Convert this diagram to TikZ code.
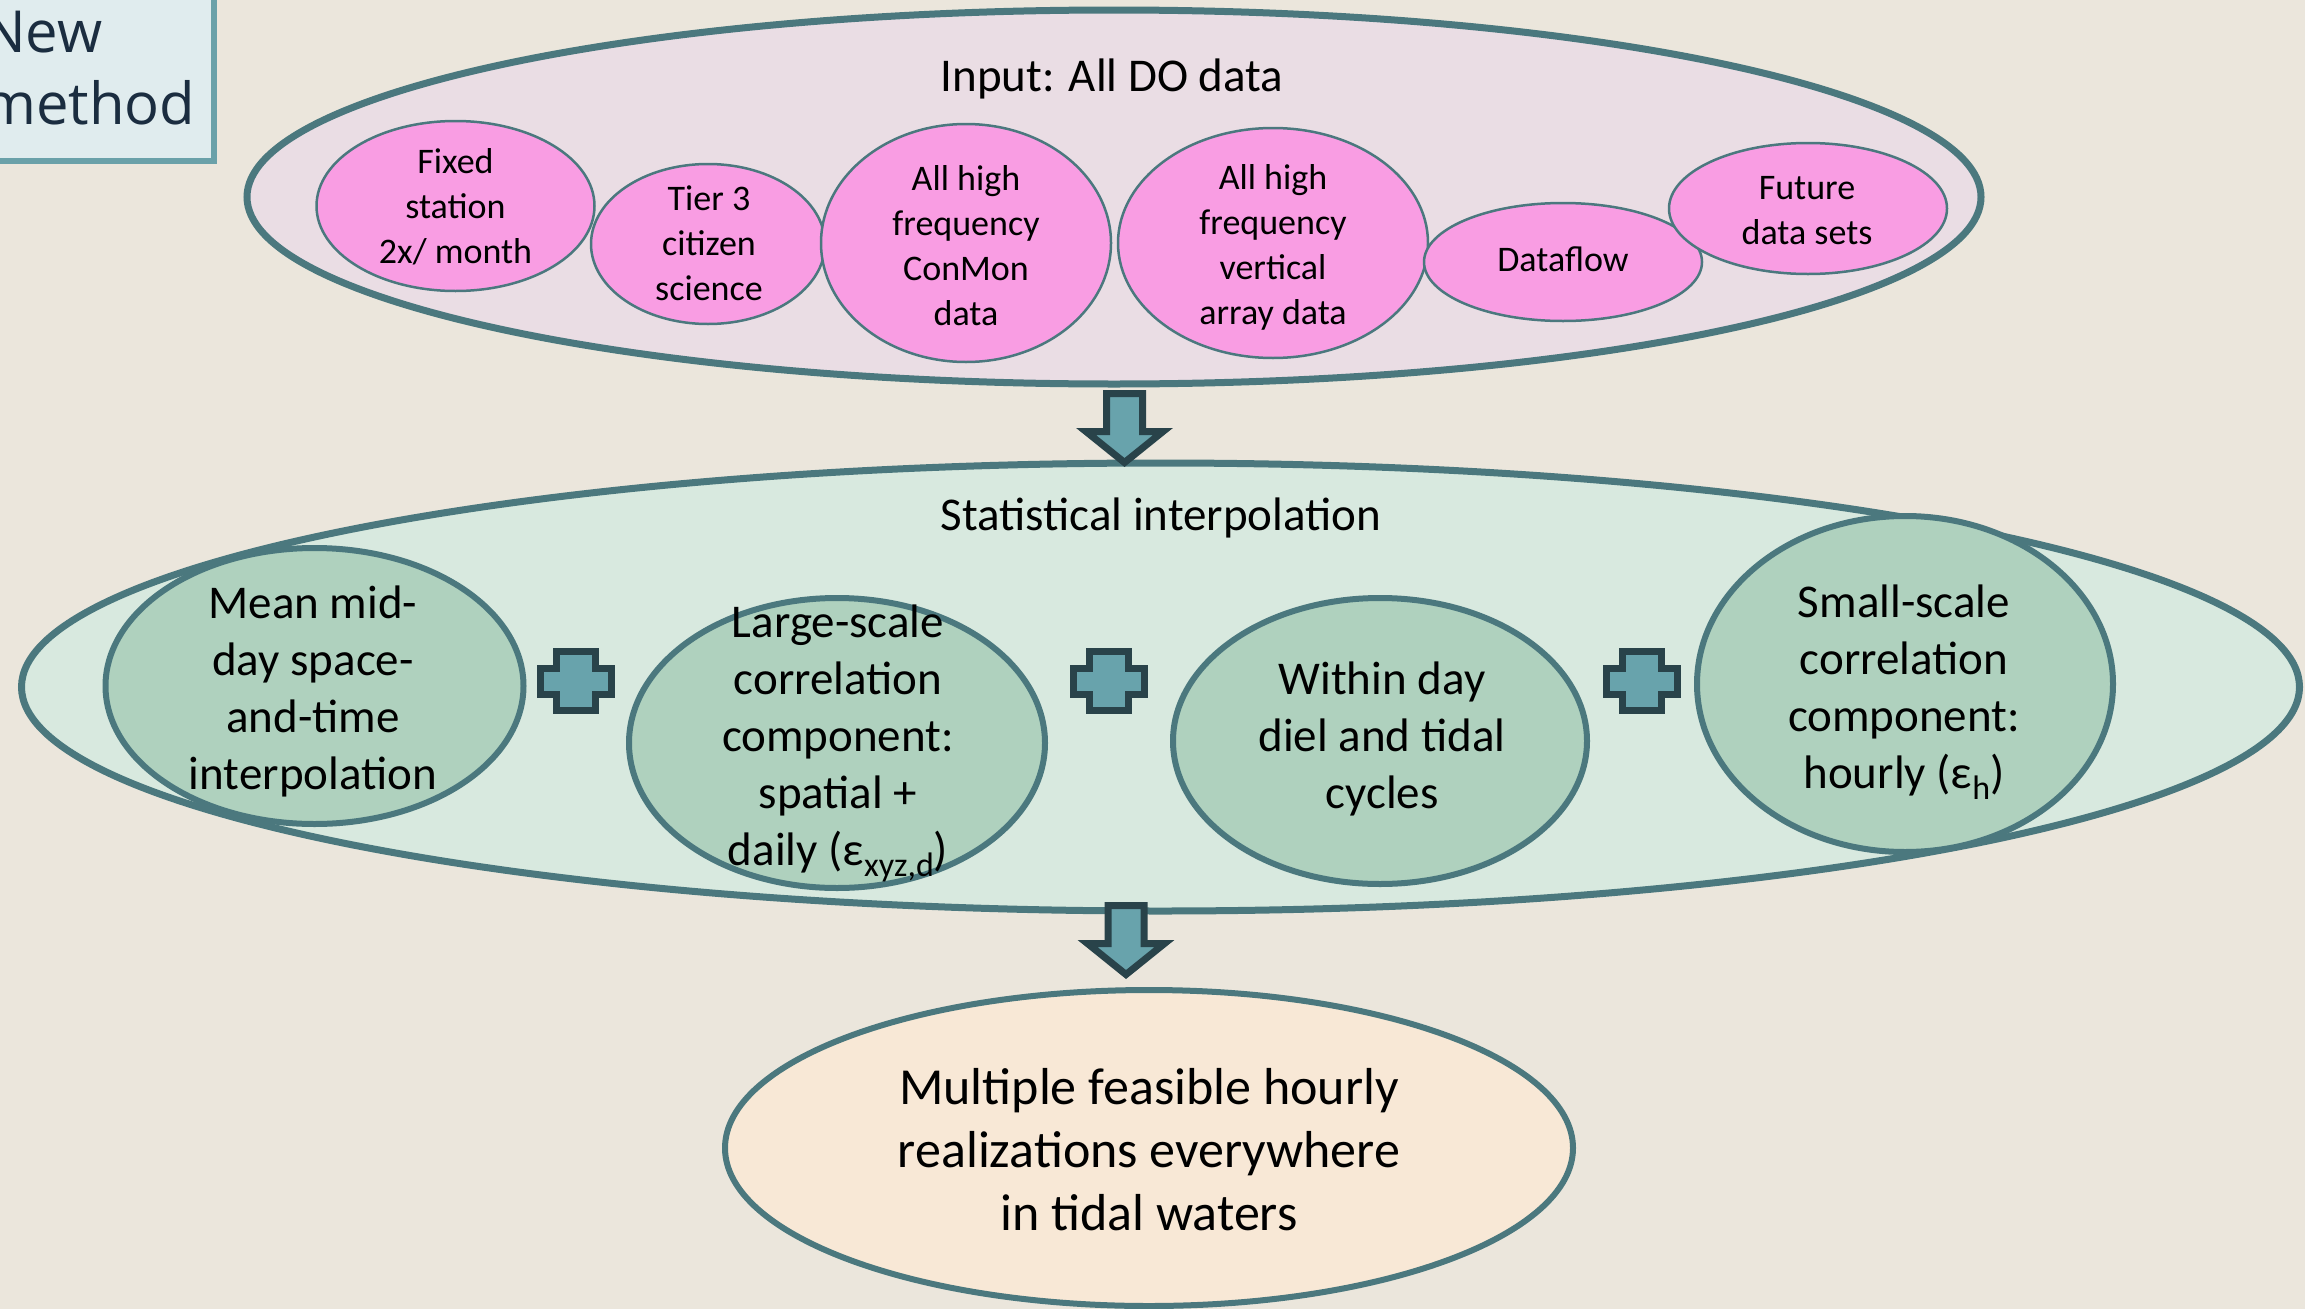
\documentclass[tikz,border=0pt]{standalone}
\usepackage{fontspec}
\setmainfont{Carlito}
\newfontfamily\headfont{Open Sans}
\usetikzlibrary{shapes.geometric,calc}

\definecolor{bg}{HTML}{EBE6DC}
\definecolor{edge}{HTML}{4B787E}
\definecolor{topfill}{HTML}{EADDE4}
\definecolor{pinkfill}{HTML}{F99DE3}
\definecolor{midfill}{HTML}{D8E9DF}
\definecolor{greenfill}{HTML}{AFD1BE}
\definecolor{outfill}{HTML}{F8E8D6}
\definecolor{arrowfill}{HTML}{68A3AC}
\definecolor{arrowedge}{HTML}{29434A}
\definecolor{tagfill}{HTML}{E0ECEE}
\definecolor{tagedge}{HTML}{6AA1A9}
\definecolor{tagtext}{HTML}{1B2D40}

\newcommand{\lowsub}[1]{\raisebox{-11pt}{\fontsize{34}{34}\selectfont #1}}

\begin{document}
\begin{tikzpicture}[x=1pt,y=-1pt,
  ell/.style={ellipse, draw=edge, inner sep=0pt, outer sep=0pt},
  bigell/.style={ell, line width=7pt},
  pinkell/.style={ell, fill=pinkfill, line width=2.5pt},
  greenell/.style={ell, fill=greenfill, line width=6pt},
  smalltxt/.style={align=center, inner sep=0pt, font=\fontsize{36}{45}\selectfont},
  midtxt/.style={align=center, inner sep=0pt, font=\fontsize{47}{57}\selectfont},
  bigtxt/.style={align=center, inner sep=0pt, font=\fontsize{52}{63}\selectfont},
  arrowbody/.style={draw=arrowedge, fill=arrowfill, line width=7pt, line join=miter},
  pics/downarrow/.style={code={
    \draw[arrowbody] (-18,0) -- (18,0) -- (18,38) -- (38.5,38) -- (0,69)
      -- (-38.5,38) -- (-18,38) -- cycle;}},
  pics/plussign/.style={code={
    \draw[arrowbody] (-19.5,-29.5) -- (19.5,-29.5) -- (19.5,-13) -- (35.5,-13)
      -- (35.5,13) -- (19.5,13) -- (19.5,29.5) -- (-19.5,29.5) -- (-19.5,13)
      -- (-35.5,13) -- (-35.5,-13) -- (-19.5,-13) -- cycle;}}
]
\useasboundingbox (0,0) rectangle (2305,1309);
\clip (0,0) rectangle (2305,1309);
\fill[bg] (0,0) rectangle (2305,1309);

% title tag in the corner
\node[rectangle, draw=tagedge, fill=tagfill, line width=6pt, inner sep=0pt,
      minimum width=264pt, minimum height=211pt] (tag) at (82,55.5) {};
\node[anchor=north west, align=left, inner sep=0pt, text=tagtext,
      font=\headfont\fontsize{58}{72}\selectfont] (taglbl) at (-18,11) {New\\method};

% input data
\node[bigell, fill=topfill, minimum width=1734pt, minimum height=374pt] (input) at (1114,197) {};
\node[midtxt, anchor=base] (inputlbl) at (1112,91) {Input: All DO data};

\node[pinkell, minimum width=234pt, minimum height=160pt] (tier) at (708,244) {};
\node[pinkell, minimum width=278pt, minimum height=170pt] (fixed) at (455.5,206) {};
\node[pinkell, minimum width=290pt, minimum height=238pt] (conmon) at (966,243) {};
\node[pinkell, minimum width=310pt, minimum height=230pt] (vert) at (1273,243) {};
\node[pinkell, minimum width=278pt, minimum height=118pt] (flow) at (1563,262) {};
\node[pinkell, minimum width=278pt, minimum height=131pt] (future) at (1808,208.5) {};

\node[smalltxt] (fixedlbl) at (455.5,207) {Fixed\\station\\2x/ month};
\node[smalltxt] (tierlbl) at (709,243) {Tier 3\\citizen\\science};
\node[smalltxt] (conmonlbl) at (966,246) {All high\\frequency\\ConMon\\data};
\node[smalltxt] (vertlbl) at (1273,247) {All high\\frequency\\vertical\\array data};
\node[smalltxt] (flowlbl) at (1563,259) {Dataflow};
\node[smalltxt] (futurelbl) at (1807,211) {Future\\data sets};

% statistical interpolation
\node[bigell, fill=midfill, minimum width=2278pt, minimum height=448pt] (interp) at (1160.5,687) {};
\node[midtxt, anchor=base] (interplbl) at (1161,530) {Statistical interpolation};

\node[greenell, minimum width=418pt, minimum height=276pt] (mean) at (314.5,686) {};
\node[greenell, minimum width=416pt, minimum height=290pt] (large) at (837,743) {};
\node[greenell, minimum width=414pt, minimum height=286pt] (diel) at (1380,741) {};
\node[greenell, minimum width=416pt, minimum height=336pt] (small) at (1905,684) {};

\node[midtxt] (meanlbl) at (313,691) {Mean mid-\\day space-\\and-time\\interpolation};
\node[midtxt, anchor=north] (largelbl) at (838,605) {Large-scale\\correlation\\component:\\spatial +\\daily (ε\lowsub{xyz,d})};
\node[midtxt] (diellbl) at (1382,739) {Within day\\diel and tidal\\cycles};
\node[midtxt, anchor=north] (smalllbl) at (1904,585) {Small-scale\\correlation\\component:\\hourly (ε\lowsub{h})};

% the three components are summed
\coordinate (p1) at ($(mean.east)!0.5!(large.west)$);
\coordinate (p2) at ($(large.east)!0.5!(diel.west)$);
\coordinate (p3) at ($(diel.east)!0.5!(small.west)$);
\pic at (p1 |- 0,681) {plussign};
\pic at (p2 |- 0,681) {plussign};
\pic at (p3 |- 0,681) {plussign};

% output
\node[ell, fill=outfill, line width=6pt, minimum width=848pt, minimum height=316pt] (output) at (1149,1148) {};
\node[bigtxt] (outputlbl) at (1149,1150) {Multiple feasible hourly\\realizations everywhere\\in tidal waters};

% flow arrows between the stages
\coordinate (a1) at ($(input.south)+(10.5,9.5)$);
\coordinate (a2) at ($(interp.south)+(-34.5,-5.5)$);
\pic at (a1) {downarrow};
\pic at (a2) {downarrow};
\end{tikzpicture}
\end{document}
